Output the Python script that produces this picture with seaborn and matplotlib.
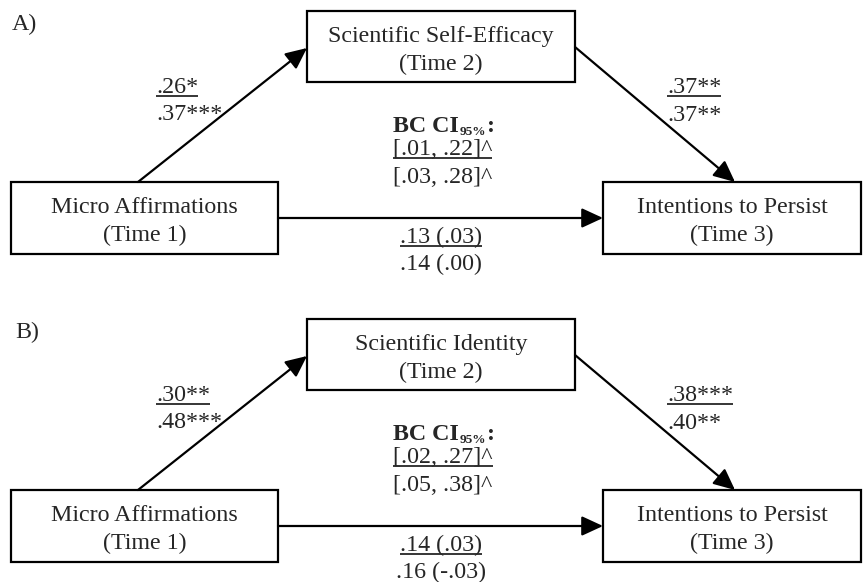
import matplotlib
matplotlib.use("Agg")
import matplotlib.pyplot as plt
import seaborn as sns
from matplotlib.patches import Rectangle

sns.set_theme(style="white")
plt.rcParams['font.family'] = ['Liberation Serif', 'DejaVu Serif']

# ---- data ----
panel_labels = ["A)", "B)"]
mediators = ["Scientific Self-Efficacy", "Scientific Identity"]
predictor = "Micro Affirmations"
outcome = "Intentions to Persist"
times = ["(Time 1)", "(Time 2)", "(Time 3)"]
path_a_top = [".26*", ".30**"]
path_a_bot = [".37***", ".48***"]
path_b_top = [".37**", ".38***"]
path_b_bot = [".37**", ".40**"]
ci_top = ["[.01, .22]^", "[.02, .27]^"]
ci_bot = ["[.03, .28]^", "[.05, .38]^"]
direct_top = [".13 (.03)", ".14 (.03)"]
direct_bot = [".14 (.00)", ".16 (-.03)"]

W, H, DPI = 863, 582, 100
FS = 17.3
LW = 1.6

fig = plt.figure(figsize=(W / DPI, H / DPI), dpi=DPI)
ax = fig.add_axes([0, 0, 1, 1])
ax.set_xlim(0, W)
ax.set_ylim(H, 0)
ax.axis("off")
fig.canvas.draw()
renderer = fig.canvas.get_renderer()


def ext(t):
    bb = t.get_window_extent(renderer)
    inv = ax.transData.inverted()
    (x0, _), (x1, _) = inv.transform([(bb.x0, bb.y0), (bb.x1, bb.y1)])
    return x0, x1


def underline(t, y):
    x0, x1 = ext(t)
    ax.plot([x0, x1], [y + 2.5, y + 2.5], color="black", lw=1.1, solid_capstyle="butt")


def box(x0, y0, x1, y1, l1, l2):
    ax.add_patch(Rectangle((x0, y0), x1 - x0, y1 - y0, fill=False, ec="black", lw=LW))
    cx = (x0 + x1) / 2
    ax.text(cx, y0 + 31, l1, ha="center", va="baseline", fontsize=FS)
    ax.text(cx, y0 + 59, l2, ha="center", va="baseline", fontsize=FS)


def arrow(p0, p1):
    ax.annotate("", xy=p1, xytext=p0, xycoords="data",
                arrowprops=dict(arrowstyle="-|>,head_length=0.65,head_width=0.3",
                                mutation_scale=20, lw=LW, color="black",
                                shrinkA=0, shrinkB=0))


for i in range(2):
    dy = 308 * i
    ax.text(12 + 3 * i, 30 + dy, panel_labels[i], ha="left", va="baseline", fontsize=FS)

    box(307, 11 + dy, 575, 82 + dy, mediators[i], times[1])
    box(11, 182 + dy, 278, 254 + dy, predictor, times[0])
    box(603, 182 + dy, 861, 254 + dy, outcome, times[2])

    arrow((138, 182 + dy), (307, 48 + dy))
    arrow((575, 47 + dy), (735, 182 + dy))
    arrow((278, 218 + dy), (603, 218 + dy))

    # path a labels
    t = ax.text(156, 93 + dy, path_a_top[i], ha="left", va="baseline", fontsize=FS)
    underline(t, 93 + dy)
    ax.text(156, 120 + dy, path_a_bot[i], ha="left", va="baseline", fontsize=FS)

    # path b labels
    t = ax.text(667, 93 + dy, path_b_top[i], ha="left", va="baseline", fontsize=FS)
    underline(t, 93 + dy)
    ax.text(667, 121 + dy, path_b_bot[i], ha="left", va="baseline", fontsize=FS)

    # BC CI block
    t = ax.text(393, 132 + dy, "BC CI", ha="left", va="baseline", fontsize=FS, fontweight="bold")
    _, xe = ext(t)
    t2 = ax.text(xe + 1, 135 + dy, "95%", ha="left", va="baseline", fontsize=9.5, fontweight="bold")
    _, xe2 = ext(t2)
    ax.text(xe2 + 1, 132 + dy, ":", ha="left", va="baseline", fontsize=FS, fontweight="bold")
    t = ax.text(393, 155 + dy, ci_top[i], ha="left", va="baseline", fontsize=FS)
    underline(t, 155 + dy)
    ax.text(393, 183 + dy, ci_bot[i], ha="left", va="baseline", fontsize=FS)

    # direct path labels
    t = ax.text(441, 243 + dy, direct_top[i], ha="center", va="baseline", fontsize=FS)
    underline(t, 243 + dy)
    ax.text(441, 270 + dy, direct_bot[i], ha="center", va="baseline", fontsize=FS)

fig.savefig("out.png", dpi=DPI, facecolor="white")
